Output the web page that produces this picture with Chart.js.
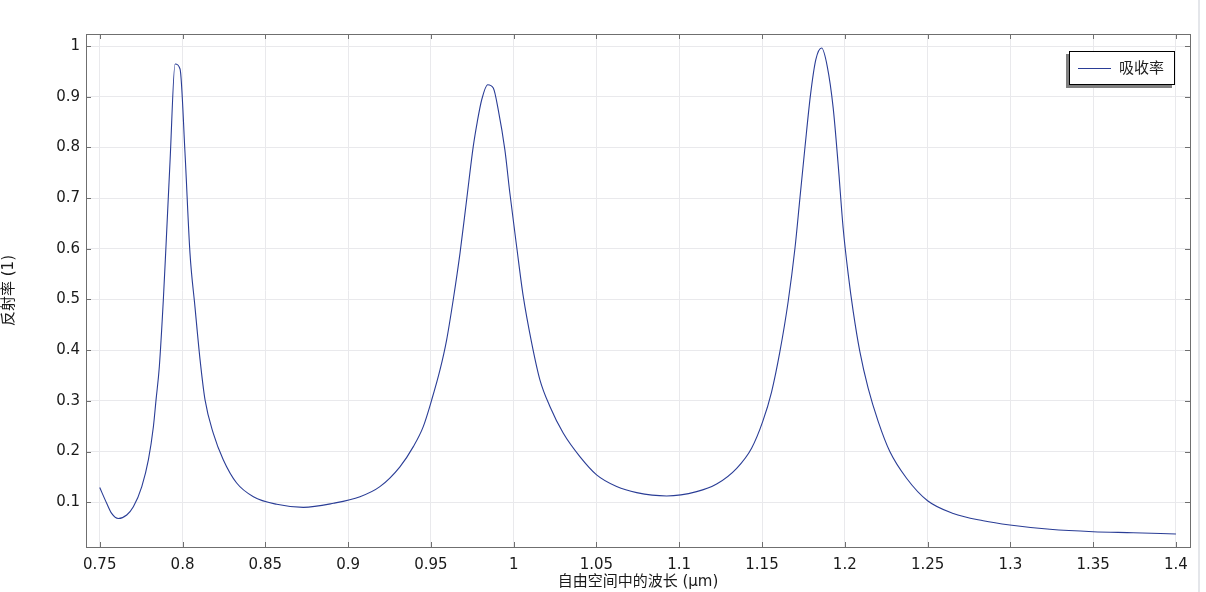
<!DOCTYPE html>
<html>
<head>
<meta charset="utf-8">
<script src="https://cdn.jsdelivr.net/npm/chart.js@4/dist/chart.umd.min.js"></script>
<style>
  html, body { margin: 0; padding: 0; background: #fff; }
  #wrap { position: relative; width: 1206px; height: 592px; }
  #edge { position: absolute; left: 1198px; top: 0; width: 2px; height: 592px; background: #e4e6ea; }
</style>
</head>
<body>
<div id="wrap">
  <canvas id="absorbChart"></canvas>
  <div id="edge"></div>
</div>
<script>
// wavelength (µm) and absorption
const wavelength = [
  0.750, 0.7542, 0.7572, 0.7612, 0.7663, 0.7703, 0.7754, 0.7794, 0.7824, 0.784,
  0.786, 0.7884, 0.790, 0.7925, 0.7955, 0.7985, 0.8015, 0.8045, 0.8075, 0.8106,
  0.8136, 0.8186, 0.8246, 0.8327, 0.8428, 0.8569, 0.873, 0.8911, 0.9072, 0.9192,
  0.9313, 0.9394, 0.9454, 0.9505, 0.9555, 0.9595, 0.9635, 0.9676, 0.9716, 0.9756,
  0.978, 0.9807, 0.9843, 0.9877, 0.9907, 0.9947, 0.9977, 1.0018, 1.0058, 1.0109,
  1.0159, 1.0219, 1.030, 1.040, 1.0501, 1.0622, 1.0743, 1.0924, 1.1105, 1.1226,
  1.1347, 1.1437, 1.1504, 1.1558, 1.1608, 1.1658, 1.1699, 1.1729, 1.1759, 1.1793,
  1.1825, 1.186, 1.1894, 1.193, 1.196, 1.199, 1.2021, 1.2051, 1.2091, 1.2141,
  1.2202, 1.2272, 1.2373, 1.25, 1.2655, 1.2836, 1.2997, 1.3239, 1.35, 1.3742,
  1.400
];
const absorption = [
  0.129, 0.098, 0.078, 0.068, 0.075, 0.091, 0.131, 0.184, 0.249, 0.302,
  0.368, 0.499, 0.6045, 0.7756, 0.9645, 0.9546, 0.789, 0.5915, 0.486, 0.381,
  0.302, 0.236, 0.184, 0.138, 0.111, 0.096, 0.090, 0.098, 0.111, 0.1308,
  0.170, 0.2098, 0.2493, 0.302, 0.361, 0.420, 0.4995, 0.5915, 0.6967, 0.8019,
  0.850, 0.894, 0.9236, 0.917, 0.874, 0.795, 0.710, 0.6045, 0.506, 0.414,
  0.341, 0.289, 0.236, 0.190, 0.154, 0.131, 0.119, 0.1125, 0.121, 0.136,
  0.167, 0.2066, 0.259, 0.318, 0.397, 0.496, 0.601, 0.700, 0.7987, 0.904,
  0.973, 0.996, 0.960, 0.8776, 0.766, 0.641, 0.549, 0.476, 0.397, 0.325,
  0.259, 0.200, 0.1474, 0.103, 0.078, 0.0637, 0.0553, 0.0468, 0.042, 0.040,
  0.0375
];
const seriesLabel = '吸收率';
const xTitle = '自由空间中的波长 (µm)';
const yTitle = '反射率 (1)';
const xRange = [0.7417, 1.4085];
const yRange = [0.0118, 1.0237];

const lineColor = '#2a3d96';
const textFont = '"DejaVu Sans", "Noto Sans CJK SC", sans-serif';

// box round the plot, inward ticks on all four sides, and the boxed legend
const framePlugin = {
  id: 'frame',
  afterDatasetsDraw(chart) {
    const { ctx, chartArea: a, scales: { x, y } } = chart;
    ctx.save();
    ctx.strokeStyle = '#6f6f6f';
    ctx.lineWidth = 1;
    ctx.strokeRect(Math.round(a.left) + 0.5, Math.round(a.top) + 0.5,
      Math.round(a.right - a.left), Math.round(a.bottom - a.top));
    ctx.beginPath();
    x.ticks.forEach(t => {
      const px = Math.round(x.getPixelForValue(t.value)) + 0.5;
      ctx.moveTo(px, a.bottom); ctx.lineTo(px, a.bottom - 5);
      ctx.moveTo(px, a.top); ctx.lineTo(px, a.top + 5);
    });
    y.ticks.forEach(t => {
      const py = Math.round(y.getPixelForValue(t.value)) + 0.5;
      ctx.moveTo(a.left, py); ctx.lineTo(a.left + 5, py);
      ctx.moveTo(a.right, py); ctx.lineTo(a.right - 5, py);
    });
    ctx.stroke();

    // legend box with shadow down-left
    const lx = 1069, ly = 51, lw = 106, lh = 34;
    ctx.fillStyle = '#7f7f7f';
    ctx.fillRect(lx - 3, ly + 3, lw, lh);
    ctx.fillStyle = '#fff';
    ctx.fillRect(lx, ly, lw, lh);
    ctx.strokeStyle = '#000';
    ctx.strokeRect(lx + 0.5, ly + 0.5, lw - 1, lh - 1);
    const ds = chart.data.datasets[0];
    ctx.strokeStyle = ds.borderColor;
    ctx.beginPath();
    ctx.moveTo(lx + 9, ly + 17.5); ctx.lineTo(lx + 42, ly + 17.5);
    ctx.stroke();
    ctx.fillStyle = '#222';
    ctx.font = '15px ' + textFont;
    ctx.textBaseline = 'middle';
    ctx.fillText(ds.label, lx + 50, ly + 18);
    ctx.restore();
  }
};

let ctx = document.getElementById('absorbChart').getContext('2d');

let absorbChart = new Chart(ctx, {
  type: 'line',
  data: {
    datasets: [{
      label: seriesLabel,
      data: wavelength.map((w, i) => ({ x: w, y: absorption[i] })),
      borderColor: lineColor,
      borderWidth: 1.1,
      pointRadius: 0,
      fill: false,
      cubicInterpolationMode: 'monotone',
    }]
  },
  options: {
    responsive: true,
    maintainAspectRatio: false,
    animation: false,
    layout: { padding: { top: 34, right: 16, left: 0, bottom: 0 } },
    plugins: {
      legend: { display: false },
      tooltip: { enabled: false },
    },
    scales: {
      x: {
        type: 'linear',
        min: xRange[0],
        max: xRange[1],
        border: { display: false },
        grid: { color: '#e9e9ec', drawTicks: false },
        ticks: {
          stepSize: 0.05,
          includeBounds: false,
          maxRotation: 0,
          padding: 9,
          color: '#1a1a1a',
          font: { size: 15, family: textFont },
          callback: v => +v.toFixed(2),
        },
        title: {
          display: true,
          text: xTitle,
          color: '#1a1a1a',
          font: { size: 15, family: textFont },
          padding: { top: 0, bottom: 1 },
        },
        afterFit: scale => { scale.height = 45; },
      },
      y: {
        min: yRange[0],
        max: yRange[1],
        border: { display: false },
        grid: { color: '#e9e9ec', drawTicks: false },
        ticks: {
          stepSize: 0.1,
          includeBounds: false,
          padding: 6,
          color: '#1a1a1a',
          font: { size: 15, family: textFont },
          callback: v => +v.toFixed(1),
        },
        title: {
          display: true,
          text: yTitle,
          color: '#1a1a1a',
          font: { size: 15, family: textFont },
          padding: { top: 0, bottom: 0 },
        },
        afterFit: scale => { scale.width = 86; },
      }
    }
  },
  plugins: [framePlugin]
});
</script>
</body>
</html>
